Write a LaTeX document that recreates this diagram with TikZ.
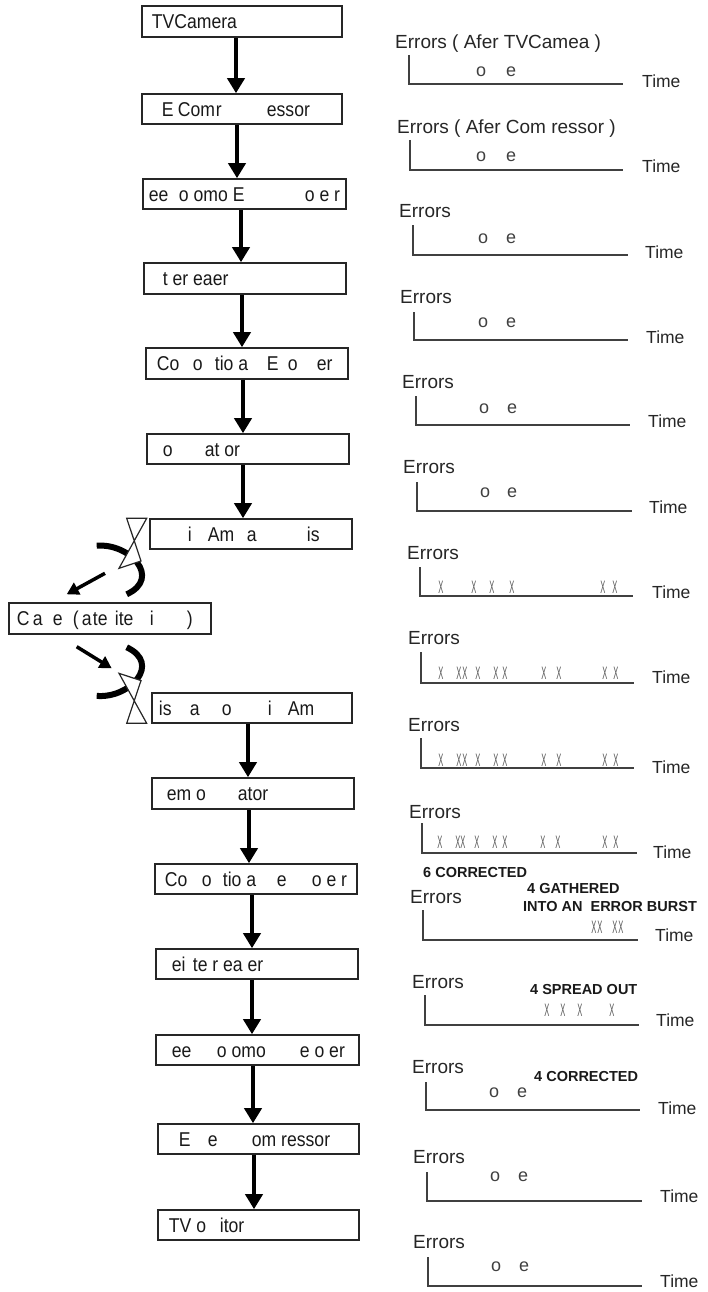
\documentclass[tikz,border=0pt]{standalone}
\usepackage{fontspec}
\usepackage{graphicx}
\setmainfont{Liberation Sans}
\usetikzlibrary{arrows.meta}
\newcommand\fr[2]{\makebox[0pt][l]{\hspace*{#1pt}\scalebox{0.88}[1]{#2}}}
\newcommand\xm{\scalebox{0.42}[1]{X}}
\begin{document}
\begin{tikzpicture}[x=1pt,y=-1pt,
 box/.style={draw=black!85, line width=1.6pt, inner sep=0pt},
 blab/.style={anchor=base west, inner sep=0pt, yshift=-7.2pt, font=\fontsize{20}{22}\selectfont, text=black!90},
 flow/.style={line width=4pt, -{Triangle[length=15pt,width=17pt]}},
 axis/.style={draw=black!75, line width=1.8pt},
 elab/.style={anchor=base west, inner sep=0pt, yshift=-6.8pt, font=\fontsize{19}{21}\selectfont, text=black!85},
 tlab/.style={anchor=base west, inner sep=0pt, yshift=-6.3pt, font=\fontsize{17.5}{20}\selectfont, text=black!85},
 oe/.style={anchor=base, inner sep=0pt, yshift=-4.6pt, font=\fontsize{18}{20}\selectfont, text=black!75},
 xmk/.style={anchor=base, inner sep=0pt, yshift=-6.4pt, font=\fontsize{18}{20}\selectfont, text=black!65},
 note/.style={anchor=base west, inner sep=0pt, yshift=-5.2pt, font=\fontsize{14.5}{16}\selectfont\bfseries, text=black!90},
 dish/.style={line width=6pt},
 feed/.style={draw=black!85, line width=1.2pt, fill=white, line join=miter},
 tx/.style={line width=3.5pt, -{Triangle[length=12pt,width=13pt]}}
]
\useasboundingbox (0,0) rectangle (707,1292);

% ---------- left column boxes ----------
\node[box, minimum width=200, minimum height=31] (b1) at (242,21.5) {};
\node[box, minimum width=200, minimum height=30] (b2) at (242,109) {};
\node[box, minimum width=203, minimum height=30] (b3) at (244.5,194) {};
\node[box, minimum width=202, minimum height=31] (b4) at (245,278.5) {};
\node[box, minimum width=202, minimum height=31] (b5) at (247,363.5) {};
\node[box, minimum width=202, minimum height=30] (b6) at (248,449) {};
\node[box, minimum width=202, minimum height=30] (b7) at (251,534) {};
\node[box, minimum width=202, minimum height=31] (b8) at (110,618.5) {};
\node[box, minimum width=200, minimum height=30] (b9) at (252,708) {};
\node[box, minimum width=202, minimum height=31] (b10) at (253,793.5) {};
\node[box, minimum width=202, minimum height=30] (b11) at (256,879) {};
\node[box, minimum width=202, minimum height=30] (b12) at (257,964) {};
\node[box, minimum width=203, minimum height=30] (b13) at (257.5,1050) {};
\node[box, minimum width=201, minimum height=30] (b14) at (258.5,1139) {};
\node[box, minimum width=201, minimum height=30] (b15) at (258.5,1225) {};

\node[blab] (t1) at (b1.west) {\fr{10}{TVCamera}};
\node[blab] (t2) at (b2.west) {\fr{20}{E}\fr{36}{Com}\fr{74}{r}\fr{125}{essor}};
\node[blab] (t3) at (b3.west) {\fr{6}{ee}\fr{36}{o omo}\fr{90}{E}\fr{162}{o e r}};
\node[blab] (t4) at (b4.west) {\fr{19}{t er eaer}};
\node[blab] (t5) at (b5.west) {\fr{11}{Co}\fr{47}{o}\fr{69}{tio a}\fr{121}{E}\fr{142}{o}\fr{171}{er}};
\node[blab] (t6) at (b6.west) {\fr{16}{o}\fr{58}{at or}};
\node[blab] (t7) at (b7.west) {\fr{38}{i}\fr{58}{Am}\fr{97}{a}\fr{157}{is}};
\node[blab] (t8) at (b8.west) {\fr{8}{C}\fr{24}{a}\fr{44}{e}\fr{64}{(}\fr{73}{a}\fr{84}{te}\fr{106}{ite}\fr{141}{i}\fr{178}{)}};
\node[blab] (t9) at (b9.west) {\fr{7}{is}\fr{38}{a}\fr{70}{o}\fr{116}{i}\fr{136}{Am}};
\node[blab] (t10) at (b10.west) {\fr{15}{em o}\fr{86}{ator}};
\node[blab] (t11) at (b11.west) {\fr{10}{Co}\fr{47}{o}\fr{68}{tio a}\fr{122}{e}\fr{157}{o e r}};
\node[blab] (t12) at (b12.west) {\fr{16}{ei}\fr{37}{te r ea er}};
\node[blab] (t13) at (b13.west) {\fr{16}{ee}\fr{61}{o omo}\fr{144}{e o er}};
\node[blab] (t14) at (b14.west) {\fr{21}{E}\fr{50}{e}\fr{94}{om ressor}};
\node[blab] (t15) at (b15.west) {\fr{11}{TV o}\fr{62}{itor}};

% ---------- flow arrows ----------
\draw[flow] (b1.south -| 236,0) -- (b2.north -| 236,0);
\draw[flow] (b2.south -| 237,0) -- (b3.north -| 237,0);
\draw[flow] (b3.south -| 241,0) -- (b4.north -| 241,0);
\draw[flow] (b4.south -| 242,0) -- (b5.north -| 242,0);
\draw[flow] (b5.south -| 243,0) -- (b6.north -| 243,0);
\draw[flow] (b6.south -| 243,0) -- (b7.north -| 243,0);
\draw[flow] (b9.south -| 248,0) -- (b10.north -| 248,0);
\draw[flow] (b10.south -| 249,0) -- (b11.north -| 249,0);
\draw[flow] (b11.south -| 252,0) -- (b12.north -| 252,0);
\draw[flow] (b12.south -| 252,0) -- (b13.north -| 252,0);
\draw[flow] (b13.south -| 253,0) -- (b14.north -| 253,0);
\draw[flow] (b14.south -| 254,0) -- (b15.north -| 254,0);

% ---------- antennas ----------
\coordinate (ua1) at (96.7,545.7);
\coordinate (ua2) at (126.7,594.3);
\draw[dish] (ua1) .. controls (130,543) and (162,578) .. (ua2);
\draw[feed] (126.7,518.3) -- (141,561) -- (119,568.3) -- (146.7,518.3) -- cycle;
\coordinate (utx0) at (105,573.3);
\coordinate (utx1) at (66.7,594.3);
\draw[tx] (utx0) -- (utx1);

\coordinate (la1) at (96.7,695.9);
\coordinate (la2) at (126.7,647.3);
\draw[dish] (la1) .. controls (130,698.6) and (162,663.6) .. (la2);
\draw[feed] (126.7,723.3) -- (141,680.6) -- (119,673.3) -- (146.7,723.3) -- cycle;
\coordinate (ltx0) at (76.7,646.7);
\coordinate (ltx1) at (111.7,668.3);
\draw[tx] (ltx0) -- (ltx1);

% ---------- charts ----------
\draw[axis] (409,55) -- (409,84) -- (623,84);
\draw[axis] (410,140) -- (410,170) -- (623,170);
\draw[axis] (413,225) -- (413,255) -- (628,255);
\draw[axis] (414,312) -- (414,340) -- (628,340);
\draw[axis] (416,396) -- (416,425) -- (630,425);
\draw[axis] (417,482) -- (417,511) -- (632,511);
\draw[axis] (420,567) -- (420,596) -- (633,596);
\draw[axis] (421,652) -- (421,683) -- (634,683);
\draw[axis] (421,738) -- (421,768) -- (634,768);
\draw[axis] (422,823) -- (422,853) -- (637,853);
\draw[axis] (423,910) -- (423,940) -- (638,940);
\draw[axis] (425,995) -- (425,1025) -- (639,1025);
\draw[axis] (426,1082) -- (426,1110) -- (640,1110);
\draw[axis] (427,1172) -- (427,1201) -- (642,1201);
\draw[axis] (428,1257) -- (428,1286) -- (642,1286);

\node[elab] (e1) at (395,42) {Errors ( Afer TVCamea )};
\node[elab] (e2) at (397,127) {Errors ( Afer Com ressor )};
\node[elab] (e3) at (399,211) {Errors};
\node[elab] (e4) at (400,297) {Errors};
\node[elab] (e5) at (402,382) {Errors};
\node[elab] (e6) at (403,467) {Errors};
\node[elab] (e7) at (407,553) {Errors};
\node[elab] (e8) at (408,638) {Errors};
\node[elab] (e9) at (408,725) {Errors};
\node[elab] (e10) at (409,812) {Errors};
\node[elab] (e11) at (410,897) {Errors};
\node[elab] (e12) at (412,982) {Errors};
\node[elab] (e13) at (412,1067) {Errors};
\node[elab] (e14) at (413,1157) {Errors};
\node[elab] (e15) at (413,1242) {Errors};

\node[tlab] (m1) at (642,81) {Time};
\node[tlab] (m2) at (642,166) {Time};
\node[tlab] (m3) at (645,252) {Time};
\node[tlab] (m4) at (646,337) {Time};
\node[tlab] (m5) at (648,421) {Time};
\node[tlab] (m6) at (649,507) {Time};
\node[tlab] (m7) at (652,592) {Time};
\node[tlab] (m8) at (652,677) {Time};
\node[tlab] (m9) at (652,767) {Time};
\node[tlab] (m10) at (653,852) {Time};
\node[tlab] (m11) at (655,935) {Time};
\node[tlab] (m12) at (656,1020) {Time};
\node[tlab] (m13) at (658,1108) {Time};
\node[tlab] (m14) at (660,1196) {Time};
\node[tlab] (m15) at (660,1281) {Time};

\node[oe] (o1) at (481,72) {o};   \node[oe] (oe1) at (511,72) {e};
\node[oe] (o2) at (481,157) {o};  \node[oe] (oe2) at (511,157) {e};
\node[oe] (o3) at (483,239) {o};  \node[oe] (oe3) at (511,239) {e};
\node[oe] (o4) at (483,323) {o};  \node[oe] (oe4) at (511,323) {e};
\node[oe] (o5) at (484,409) {o};  \node[oe] (oe5) at (512,409) {e};
\node[oe] (o6) at (485,493) {o};  \node[oe] (oe6) at (512,493) {e};
\node[oe] (o13) at (494,1093) {o}; \node[oe] (oe13) at (522,1093) {e};
\node[oe] (o14) at (495,1177) {o}; \node[oe] (oe14) at (523,1177) {e};
\node[oe] (o15) at (496,1267) {o}; \node[oe] (oe15) at (524,1267) {e};

% X marks
\foreach \xx [count=\i] in {441,474,492,512,603,615}
  \node[xmk] (x7-\i) at (\xx,587) {\xm};
\foreach \xx [count=\i] in {441,459,465,478,496,505,544,559,605,616}
  \node[xmk] (x8-\i) at (\xx,673) {\xm};
\foreach \xx [count=\i] in {441,459,465,478,496,505,544,559,605,616}
  \node[xmk] (x9-\i) at (\xx,760) {\xm};
\foreach \xx [count=\i] in {440,458,463,477,495,505,543,558,605,616}
  \node[xmk] (x10-\i) at (\xx,842) {\xm};
\foreach \xx [count=\i] in {594,600,615,621}
  \node[xmk] (x11-\i) at (\xx,927) {\xm};
\foreach \xx [count=\i] in {547,563,580,612}
  \node[xmk] (x12-\i) at (\xx,1010) {\xm};

% notes
\node[note] (n1) at (423,872) {6 CORRECTED};
\node[note] (n2) at (527,888) {4 GATHERED};
\node[note] (n3) at (523,906) {INTO AN\ \ ERROR BURST};
\node[note] (n4) at (530,989) {4 SPREAD OUT};
\node[note] (n5) at (534,1076) {4 CORRECTED};
\end{tikzpicture}
\end{document}
